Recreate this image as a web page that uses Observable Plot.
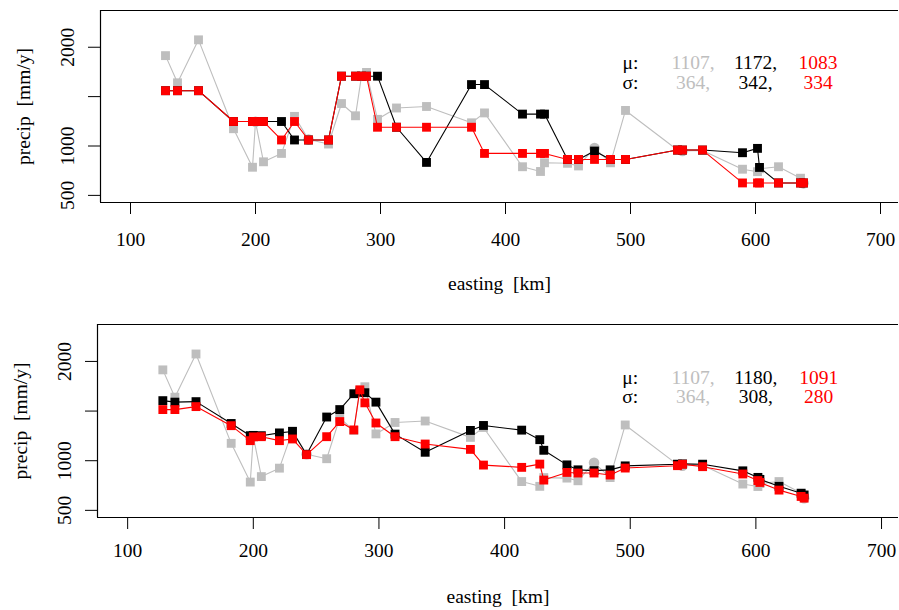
<!DOCTYPE html>
<html><head><meta charset="utf-8">
<script src="https://cdn.jsdelivr.net/npm/d3@7"></script>
<script src="https://cdn.jsdelivr.net/npm/@observablehq/plot@0.6"></script>
<style>
body{margin:0;background:#fff;}
#chart svg{display:block;}
#chart svg, #chart svg text{font-family:'Liberation Serif','Times New Roman',Times,serif !important; white-space:pre;}
</style></head><body><div id="chart"></div>
<script>
// station eastings [km]
const easting = [128, 137.6, 154.4, 182.4, 197.6, 200, 206.4, 220.8, 231.2, 242.4, 258.4, 268.8, 280, 284.8, 288.8, 297.6, 312.8, 336.8, 372.8, 383.2, 413.6, 428, 431.2, 449.6, 458.4, 471.2, 484, 496, 537.6, 541.6, 557.6, 589.6, 601.6, 603.2, 618.4, 636, 638.4];
// observed precipitation (gray)
const observed = [1915, 1640, 2075, 1175, 785, 1245, 840, 925, 1300, 1065, 1020, 1430, 1306, 1710, 1745, 1270, 1385, 1400, 1235, 1335, 790, 742, 830, 825, 798, 980, 830, 1360, 960, 950, 955, 765, 740, 770, 790, 674, 622];
const obsSymbol = ["square","square","square","square","square","circle","square","square","square","circle","square","square","square","square","square","square","square","square","square","square","square","square","square","square","square","circle","square","square","square","circle","square","square","square","square","square","square","circle"];
// panel 1 predictions
const black1 = [1560, 1560, 1560, 1248, 1248, 1248, 1248, 1248, 1061, 1061, 1061, 1707, 1707, 1707, 1707, 1707, 1190, 834, 1622, 1622, 1323, 1323, 1323, 864, 864, 949, 864, 864, 959, 959, 959, 932, 976, 783, 626, 626, 626];
const red1 = [1560, 1560, 1560, 1248, 1248, 1248, 1248, 1061, 1248, 1061, 1061, 1707, 1707, 1707, 1707, 1190, 1190, 1190, 1190, 925, 925, 925, 925, 864, 864, 864, 864, 864, 959, 959, 959, 626, 626, 626, 626, 626, 626];
// panel 2 predictions
const black2 = [1605, 1590, 1595, 1375, 1252, 1255, 1252, 1280, 1295, 1062, 1440, 1515, 1675, 1690, 1685, 1590, 1268, 1085, 1305, 1355, 1308, 1212, 1105, 958, 908, 900, 908, 948, 965, 968, 965, 898, 832, 812, 742, 672, 655];
const red2 = [1515, 1515, 1545, 1353, 1202, 1240, 1242, 1202, 1219, 1061, 1242, 1394, 1310, 1714, 1583, 1380, 1242, 1168, 1114, 956, 933, 966, 805, 882, 876, 876, 856, 926, 950, 964, 940, 866, 800, 781, 704, 640, 623];

const xTicks = [100, 200, 300, 400, 500, 600, 700];
const yTicks = [500, 1000, 1500, 2000];
const yTickLabels = ["500", "1000", "", "2000"];
const xTitle = "easting  [km]";
const yTitle = "precip  [mm/y]";
const statLabels = ["\u03bc:", "\u03c3:"];
const obsStats = [1107, 364];
const blackStats1 = [1172, 342];
const redStats1 = [1083, 334];
const blackStats2 = [1180, 308];
const redStats2 = [1091, 280];
const statX = [500, 550, 600, 650];
const statY = [1840, 1645];

const GRAY = "#bebebe", RED = "#ff0000", BLACK = "#000000";
const FONT = "'Liberation Serif', 'Times New Roman', Times, serif";
const FS = 19.5;

function panel({black, red, blackStats, redStats, marginTop, marginBottom, marginLeft, xDomain, tickPad, titleDy}) {
  const rows = easting.map((x, i) => ({x, obs: observed[i], sym: obsSymbol[i], b: black[i], r: red[i]}));
  const stats = [];
  statLabels.forEach((lab, j) => {
    stats.push({x: statX[0], y: statY[j], t: lab, c: BLACK});
    stats.push({x: statX[1], y: statY[j], t: obsStats[j] + ",", c: GRAY});
    stats.push({x: statX[2], y: statY[j], t: blackStats[j] + ",", c: BLACK});
    stats.push({x: statX[3], y: statY[j], t: String(redStats[j]), c: RED});
  });
  const yDomain = [428, 2372];
  return Plot.plot({
    width: 899, height: 305,
    marginTop, marginBottom, marginLeft, marginRight: 1,
    style: {fontFamily: FONT, fontSize: FS + "px", background: "white", color: "black", overflow: "visible"},
    x: {domain: xDomain},
    y: {domain: yDomain},
    marks: [
      Plot.axisX({ticks: xTicks, tickSize: 12, tickPadding: tickPad, fontSize: FS, label: null, tickFormat: d => String(d)}),
      Plot.axisY({ticks: yTicks, tickSize: 12, tickFormat: () => "", label: null}),
      Plot.text(yTicks, {y: d => d, text: (d, i) => yTickLabels[i], frameAnchor: "left", textAnchor: "middle", lineAnchor: "middle", dx: -33, rotate: -90, fontSize: FS}),
      Plot.text([xTitle], {text: d => d, frameAnchor: "bottom", textAnchor: "middle", lineAnchor: "middle", dy: titleDy, fontSize: FS}),
      Plot.text([yTitle], {text: d => d, frameAnchor: "left", textAnchor: "middle", lineAnchor: "middle", dx: -77, rotate: -90, fontSize: FS}),
      Plot.ruleY([yDomain[0], yDomain[1]], {stroke: BLACK, strokeWidth: 1.2}),
      Plot.ruleX([xDomain[0]], {stroke: BLACK, strokeWidth: 1.2}),
      // observed
      Plot.line(rows, {x: "x", y: "obs", stroke: GRAY, strokeWidth: 1.1}),
      Plot.dot(rows.filter(d => d.sym === "square"), {x: "x", y: "obs", symbol: "square", fill: GRAY, r: 5}),
      Plot.dot(rows.filter(d => d.sym === "circle"), {x: "x", y: "obs", symbol: "circle", fill: GRAY, r: 5.3}),
      // black prediction
      Plot.line(rows, {x: "x", y: "b", stroke: BLACK, strokeWidth: 1.1}),
      Plot.dot(rows, {x: "x", y: "b", symbol: "square", fill: BLACK, r: 5}),
      // red prediction
      Plot.line(rows, {x: "x", y: "r", stroke: RED, strokeWidth: 1.1}),
      Plot.dot(rows, {x: "x", y: "r", symbol: "square", fill: RED, r: 5}),
      // stats
      Plot.text(stats.filter(d => d.c === BLACK), {x: "x", y: "y", text: "t", fill: BLACK, fontSize: FS}),
      Plot.text(stats.filter(d => d.c === GRAY), {x: "x", y: "y", text: "t", fill: GRAY, fontSize: FS}),
      Plot.text(stats.filter(d => d.c === RED), {x: "x", y: "y", text: "t", fill: RED, fontSize: FS})
    ]
  });
}

const chart = document.getElementById("chart");
chart.append(panel({black: black1, red: red1, blackStats: blackStats1, redStats: redStats1,
  marginTop: 10, marginBottom: 103, marginLeft: 100, xDomain: [76, 714.4], tickPad: 18, titleDy: 81}));
chart.append(panel({black: black2, red: red2, blackStats: blackStats2, redStats: redStats2,
  marginTop: 19, marginBottom: 93, marginLeft: 97, xDomain: [76, 713.5], tickPad: 14, titleDy: 79}));
</script>
</body></html>
